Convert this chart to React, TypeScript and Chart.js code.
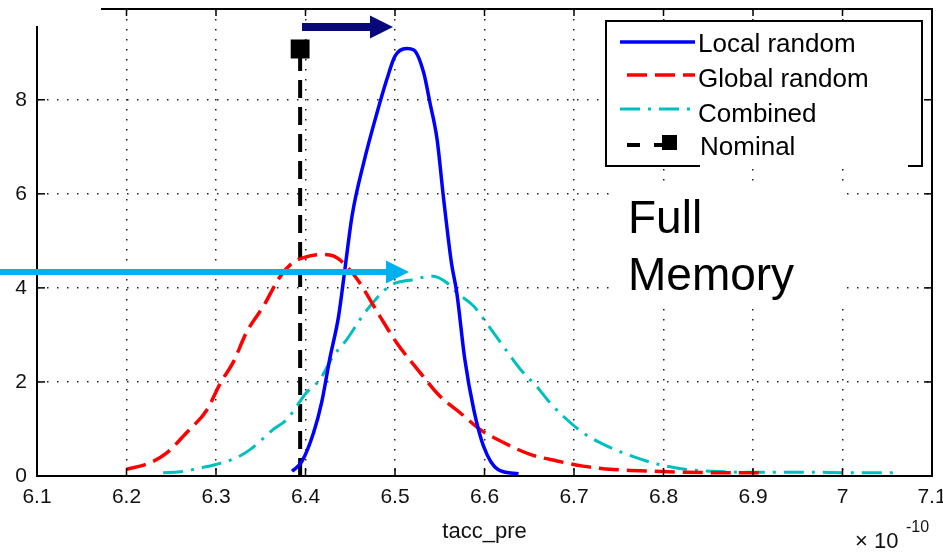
import React, { useEffect, useRef } from 'react';
import { Chart, registerables } from 'chart.js';

Chart.register(...registerables);

// ---------- data ----------
const xTickValues = [6.1, 6.2, 6.3, 6.4, 6.5, 6.6, 6.7, 6.8, 6.9, 7.0, 7.1];
const yTickValues = [0, 2, 4, 6, 8];

const seriesLabels = ['Local random', 'Global random', 'Combined', 'Nominal'];

const localX = [6.385, 6.396, 6.409, 6.418, 6.427, 6.437, 6.444, 6.452, 6.465, 6.48, 6.491, 6.5, 6.513, 6.521, 6.532, 6.539, 6.547, 6.554, 6.563, 6.569, 6.578, 6.588, 6.599, 6.615, 6.638];
const localY = [0.1, 0.31, 0.92, 1.56, 2.48, 3.4, 4.39, 5.53, 6.66, 7.73, 8.44, 8.93, 9.09, 9.06, 8.58, 7.94, 7.16, 5.95, 4.54, 3.9, 2.48, 1.41, 0.63, 0.14, 0.05];

const globalX = [6.2, 6.226, 6.245, 6.267, 6.29, 6.305, 6.319, 6.334, 6.353, 6.372, 6.386, 6.405, 6.418, 6.431, 6.446, 6.459, 6.483, 6.502, 6.528, 6.55, 6.573, 6.595, 6.614, 6.651, 6.681, 6.71, 6.744, 6.789, 6.826, 6.867, 6.915];
const globalY = [0.14, 0.28, 0.49, 0.92, 1.41, 1.98, 2.41, 3.05, 3.61, 4.25, 4.54, 4.68, 4.71, 4.68, 4.46, 4.15, 3.4, 2.83, 2.2, 1.7, 1.34, 0.99, 0.78, 0.46, 0.32, 0.21, 0.14, 0.1, 0.08, 0.07, 0.07];

const combinedX = [6.241, 6.26, 6.282, 6.299, 6.323, 6.338, 6.364, 6.379, 6.401, 6.416, 6.431, 6.446, 6.461, 6.472, 6.494, 6.521, 6.543, 6.558, 6.569, 6.588, 6.602, 6.621, 6.64, 6.658, 6.673, 6.688, 6.71, 6.729, 6.759, 6.796, 6.826, 6.856, 6.893, 6.93, 6.967, 7.005, 7.06];
const combinedY = [0.07, 0.09, 0.17, 0.24, 0.39, 0.56, 0.99, 1.2, 1.77, 2.05, 2.55, 2.9, 3.33, 3.61, 4.04, 4.18, 4.25, 4.11, 3.9, 3.61, 3.26, 2.76, 2.27, 1.91, 1.56, 1.27, 0.92, 0.71, 0.46, 0.24, 0.14, 0.1, 0.08, 0.08, 0.08, 0.07, 0.07];

const nominalX = [6.394, 6.394];
const nominalY = [0, 9.08];

const Y_MAX = 9.93;

const FONT = '"Liberation Sans", Arial, Helvetica, sans-serif';

const pts = (xs: number[], ys: number[]) => xs.map((x, i) => ({ x, y: ys[i] }));

const overlayPlugin = {
  id: 'matlabOverlay',
  afterDraw(chart: any) {
    const { ctx, chartArea: a, scales } = chart;
    const xs = scales.x;
    const ys = scales.y;
    ctx.save();
    // frame
    ctx.setLineDash([]);
    ctx.strokeStyle = '#000';
    ctx.lineWidth = 2;
    ctx.strokeRect(a.left, a.top, a.right - a.left, a.bottom - a.top);
    // inward ticks
    ctx.lineWidth = 1.5;
    const seg = (x1: number, y1: number, x2: number, y2: number) => {
      ctx.beginPath();
      ctx.moveTo(x1, y1);
      ctx.lineTo(x2, y2);
      ctx.stroke();
    };
    xTickValues.forEach((v) => {
      const px = xs.getPixelForValue(v);
      seg(px, a.bottom, px, a.bottom - 8);
      seg(px, a.top, px, a.top + 7);
    });
    yTickValues.forEach((v) => {
      const py = ys.getPixelForValue(v);
      seg(a.left, py, a.left + 8, py);
      seg(a.right, py, a.right - 8, py);
    });

    // legend
    const lx = 606, ly = 21, lw = 316, lh = 145;
    ctx.fillStyle = '#fff';
    ctx.fillRect(lx, ly, lw, lh);
    ctx.strokeStyle = '#000';
    ctx.lineWidth = 2;
    ctx.strokeRect(lx, ly, lw, lh);
    const rowLineY = [42, 75, 109, 145];
    const rowBase = [52, 87, 122, 155];
    const ds = chart.data.datasets;
    ds.forEach((d: any, i: number) => {
      ctx.save();
      ctx.strokeStyle = d.borderColor;
      ctx.lineWidth = d.borderWidth;
      if (i === 3) {
        ctx.setLineDash([13, 14]);
        seg(627, rowLineY[i], 668, rowLineY[i]);
        ctx.setLineDash([]);
        ctx.fillStyle = '#000';
        ctx.fillRect(662, rowLineY[i] - 10, 15, 15);
      } else {
        ctx.setLineDash(d.borderDash || []);
        seg(i === 1 ? 627 : 620, rowLineY[i], 695, rowLineY[i]);
      }
      ctx.restore();
      ctx.fillStyle = '#000';
      ctx.font = `26px ${FONT}`;
      ctx.textBaseline = 'alphabetic';
      ctx.textAlign = 'left';
      ctx.fillText(seriesLabels[i], i === 3 ? 700 : 698, rowBase[i]);
    });

    // white cover boxes (pasted over the figure)
    ctx.fillStyle = '#fff';
    ctx.fillRect(0, 0, 101, 26);
    ctx.fillRect(700, 163, 208, 5);
    ctx.fillRect(610, 181, 235, 124);

    // arrows
    const arrow = (x0: number, x1: number, yc: number, th: number, hw: number, hl: number, col: string) => {
      ctx.fillStyle = col;
      ctx.fillRect(x0, yc - th / 2, x1 - hl - x0, th);
      ctx.beginPath();
      ctx.moveTo(x1 - hl, yc - hw);
      ctx.lineTo(x1, yc);
      ctx.lineTo(x1 - hl, yc + hw);
      ctx.closePath();
      ctx.fill();
    };
    arrow(302, 393, 27, 8, 11.5, 23, '#08087a');
    arrow(0, 409, 272, 6, 11.5, 23, '#00b0f0');
    ctx.restore();
  },
};

export default function App() {
  const ref = useRef<HTMLCanvasElement | null>(null);

  useEffect(() => {
    if (!ref.current) return;
    const common = { pointRadius: 0, fill: false, cubicInterpolationMode: 'monotone' as const };
    const chart = new Chart(ref.current, {
      type: 'line',
      data: {
        datasets: [
          { label: seriesLabels[0], data: pts(localX, localY), borderColor: '#0000ff', borderWidth: 3.5, ...common },
          { label: seriesLabels[1], data: pts(globalX, globalY), borderColor: '#ff0000', borderWidth: 3.5, borderDash: [20, 8], ...common },
          { label: seriesLabels[2], data: pts(combinedX, combinedY), borderColor: '#00bfbf', borderWidth: 3, borderDash: [20, 8, 3, 8], ...common },
          {
            label: seriesLabels[3],
            data: pts(nominalX, nominalY),
            borderColor: '#000000',
            borderWidth: 4,
            borderDash: [18, 9],
            pointRadius: [0, 10.5],
            pointStyle: 'rect',
            pointBackgroundColor: '#000',
            pointBorderColor: '#000',
            fill: false,
          },
        ],
      },
      options: {
        animation: false,
        responsive: false,
        devicePixelRatio: 1,
        layout: { autoPadding: false, padding: { top: 9, right: 11, left: 0, bottom: 0 } },
        plugins: { legend: { display: false }, tooltip: { enabled: false } },
        scales: {
          x: {
            type: 'linear',
            min: 6.1,
            max: 7.1,
            afterBuildTicks: (s: any) => {
              s.ticks = xTickValues.map((v) => ({ value: v }));
            },
            afterFit: (s: any) => {
              s.height = 76;
              s.paddingLeft = 0;
              s.paddingRight = 0;
              s.paddingTop = 0;
              s.paddingBottom = 0;
            },
            ticks: {
              autoSkip: false,
              maxRotation: 0,
              padding: 9,
              color: '#111',
              font: { family: FONT, size: 21 },
              callback: (v: any) => String(Math.round(Number(v) * 10) / 10),
            },
            grid: { color: '#222', lineWidth: 1.5, drawTicks: false },
            border: { display: false, dash: [1.5, 8.5] },
            title: {
              display: true,
              text: 'tacc_pre',
              color: '#111',
              font: { family: FONT, size: 22 },
              padding: { top: 0, bottom: 7 },
            },
          },
          y: {
            type: 'linear',
            min: 0,
            max: Y_MAX,
            afterBuildTicks: (s: any) => {
              s.ticks = yTickValues.map((v) => ({ value: v }));
            },
            afterFit: (s: any) => {
              s.width = 37;
              s.paddingLeft = 0;
              s.paddingRight = 0;
              s.paddingTop = 0;
              s.paddingBottom = 0;
            },
            ticks: {
              padding: 10,
              color: '#111',
              font: { family: FONT, size: 21 },
              callback: (v: any) => String(v),
            },
            grid: { color: '#222', lineWidth: 1.5, drawTicks: false },
            border: { display: false, dash: [1.5, 8.5] },
          },
        },
      },
      plugins: [overlayPlugin],
    });
    return () => chart.destroy();
  }, []);

  const txt: React.CSSProperties = { position: 'absolute', fontFamily: FONT, color: '#000', whiteSpace: 'nowrap' };

  return (
    <div style={{ position: 'absolute', left: 0, top: 0, width: 943, height: 552, background: '#fff', overflow: 'hidden' }}>
      <canvas ref={ref} width={943} height={552} style={{ position: 'absolute', left: 0, top: 0, width: 943, height: 552 }} />
      <div style={{ ...txt, left: 628, top: 194, fontSize: 46, lineHeight: '46px' }}>Full</div>
      <div style={{ ...txt, left: 628, top: 251, fontSize: 46, lineHeight: '46px' }}>Memory</div>
      <div style={{ ...txt, left: 855, top: 530, fontSize: 22, lineHeight: '22px', color: '#111' }}>× 10</div>
      <div style={{ ...txt, left: 906, top: 519, fontSize: 16, lineHeight: '16px', color: '#111' }}>-10</div>
    </div>
  );
}
